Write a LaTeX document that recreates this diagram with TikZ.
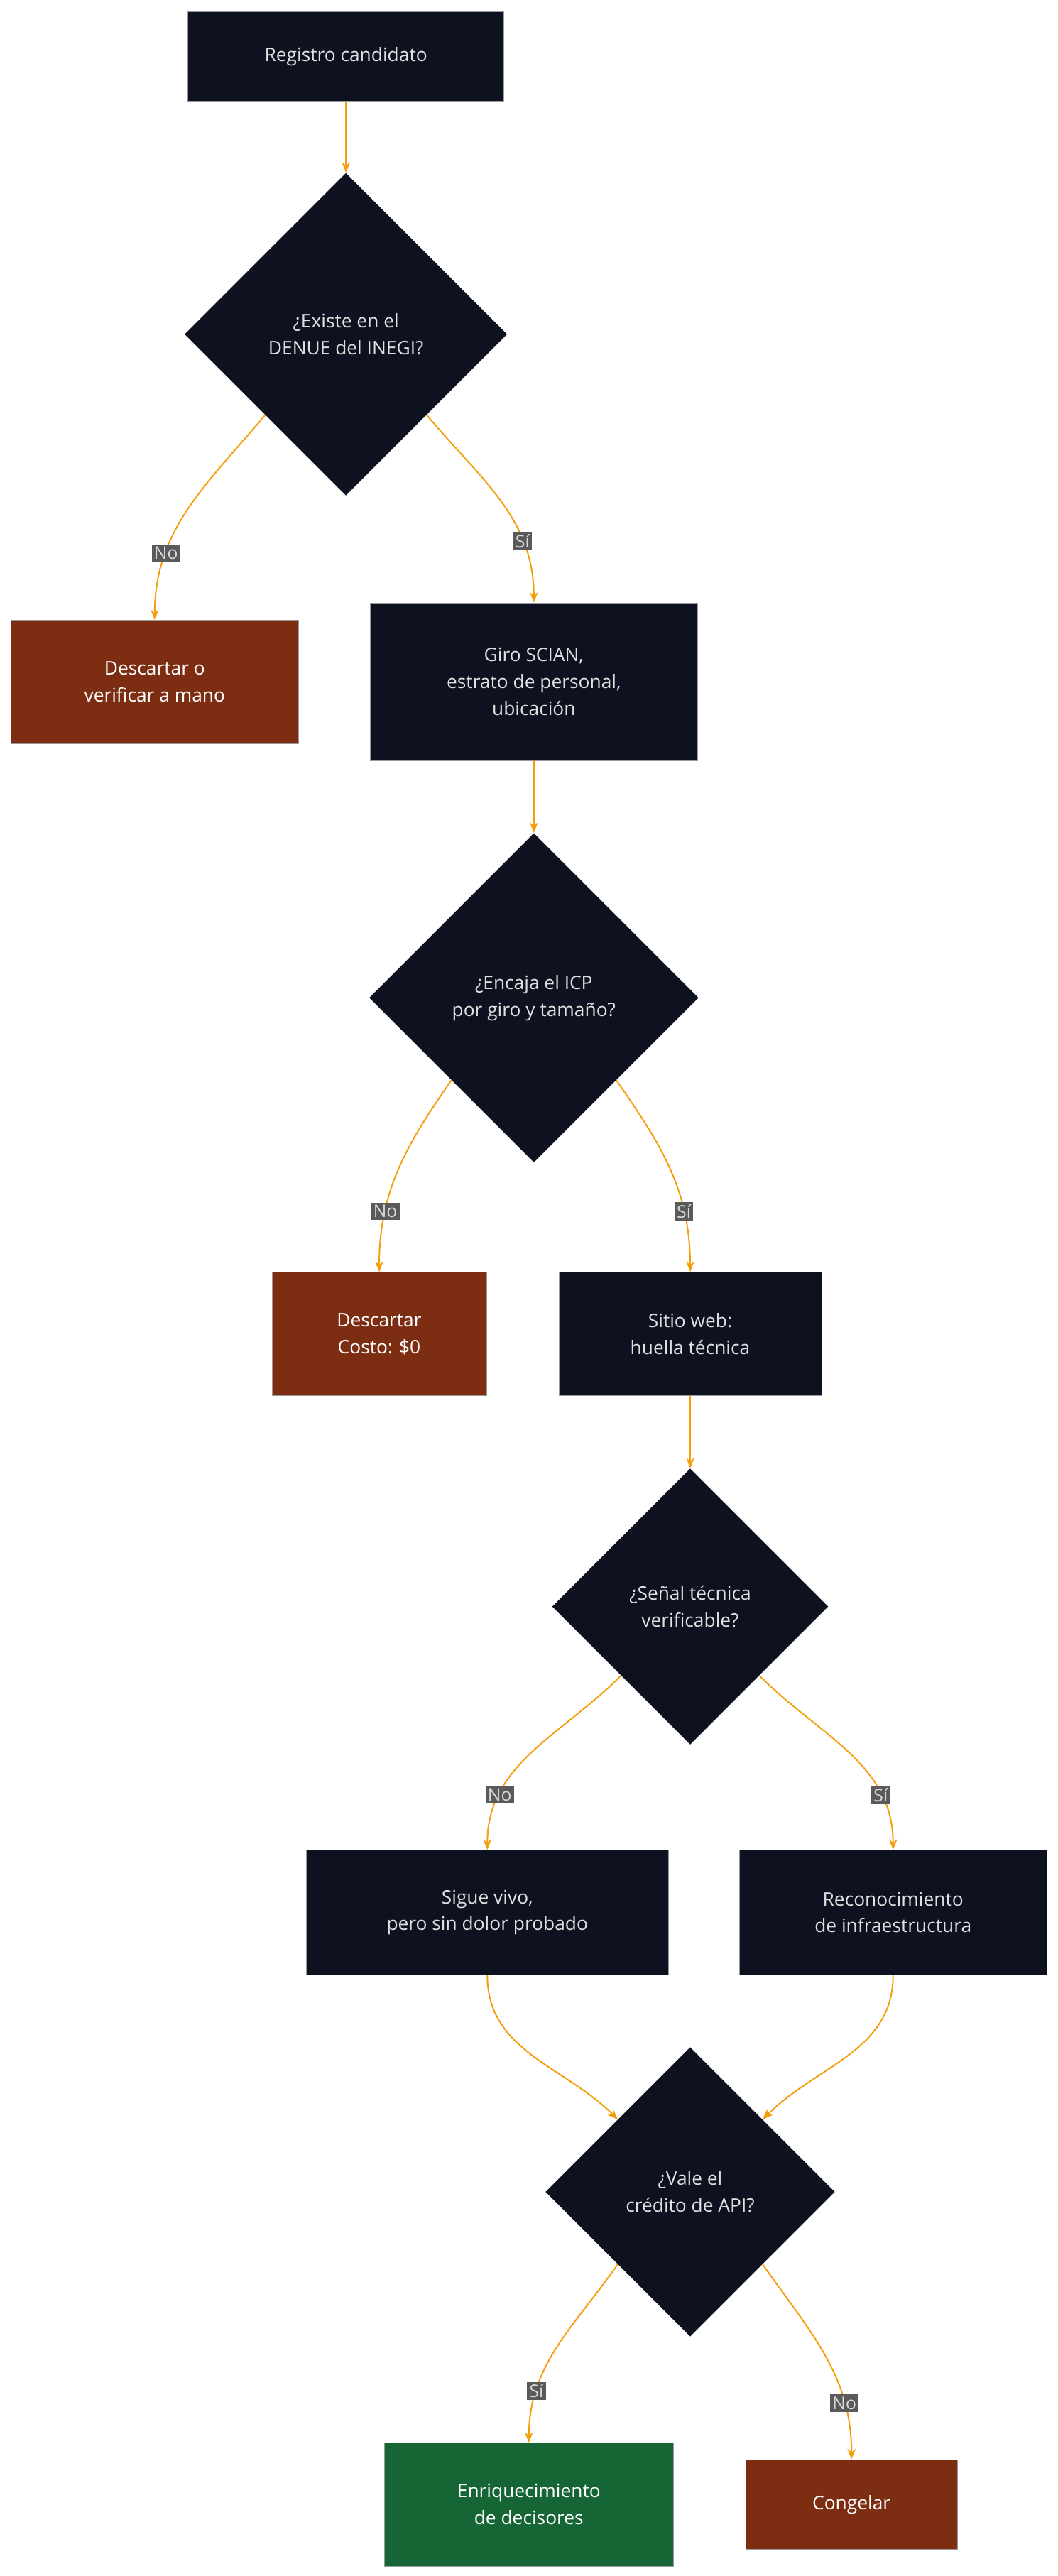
\documentclass[tikz,border=0pt]{standalone}
\usepackage{fontspec}
\setmainfont{Open Sans}
\usetikzlibrary{shapes.geometric,arrows.meta}
\definecolor{nodedark}{HTML}{0E1220}
\definecolor{edgeorange}{HTML}{F59E0B}
\definecolor{discardbrown}{HTML}{7C2D12}
\definecolor{keepgreen}{HTML}{166534}
\definecolor{labelgray}{HTML}{5A5A5A}
\begin{document}
\begin{tikzpicture}
        [x=0.05cm,y=-0.05cm,
        every node/.style={font=\fontsize{16}{23}\selectfont, text=white!88!black, align=center},
        box/.style={rectangle, draw=white!60!black, line width=0.5pt, fill=nodedark, inner sep=0pt},
        decision/.style={diamond, fill=nodedark, inner sep=0pt, aspect=1, minimum size=#1},
        drop/.style={box, fill=discardbrown, text=white},
        link/.style={draw=edgeorange, line width=1.2pt, -{Stealth[length=9pt,width=7pt]}},
        tag/.style={fill=labelgray, inner sep=2pt, text=white!85!black, font=\fontsize{15}{18}\selectfont}]
        \useasboundingbox (0,0) rectangle (636,1549);
        \node[box, minimum width=9.5cm, minimum height=2.7cm] (reg) at (208,34) {Registro candidato};
        \node[decision=9.7cm] (dnue) at (208,201) {¿Existe en el\\DENUE del INEGI?};
        \node[drop, minimum width=8.65cm, minimum height=3.7cm] (manual) at (93,410) {Descartar o\\verificar a mano};
        \node[box, minimum width=9.85cm, minimum height=4.75cm] (giro) at (321,410) {Giro SCIAN,\\estrato de personal,\\ubicación};
        \node[decision=9.9cm] (icp) at (321,600) {¿Encaja el ICP\\por giro y tamaño?};
        \node[drop, minimum width=6.45cm, minimum height=3.7cm] (costo) at (228,802) {Descartar\\Costo: \$0};
        \node[box, minimum width=7.9cm, minimum height=3.7cm] (web) at (415,802) {Sitio web:\\huella técnica};
        \node[decision=8.3cm] (senal) at (415,966) {¿Señal técnica\\verificable?};
        \node[box, minimum width=10.9cm, minimum height=3.75cm] (vivo) at (293,1150) {Sigue vivo,\\pero sin dolor probado};
        \node[box, minimum width=9.25cm, minimum height=3.75cm] (infra) at (537,1150) {Reconocimiento\\de infraestructura};
        \node[decision=8.7cm] (api) at (415,1318) {¿Vale el\\crédito de API?};
        \node[box, fill=keepgreen, text=white, minimum width=8.7cm, minimum height=3.7cm] (enriq) at (318,1506) {Enriquecimiento\\de decisores};
        \node[drop, minimum width=6.35cm, minimum height=2.7cm] (cong) at (512,1506) {Congelar};
        % connectors
        \draw[link] (reg) -- (dnue);
        \draw[link] (dnue.south west) to[out=-130,in=90] node[tag, pos=0.72] {No} (manual.north);
        \draw[link] (dnue.south east) to[out=-50,in=90] node[tag, pos=0.72] {Sí} (giro.north);
        \draw[link] (giro) -- (icp);
        \draw[link] (icp.south west) to[out=-125,in=90] node[tag, pos=0.72] {No} (costo.north);
        \draw[link] (icp.south east) to[out=-55,in=90] node[tag, pos=0.72] {Sí} (web.north);
        \draw[link] (web) -- (senal);
        \draw[link] (senal.south west) to[out=-135,in=90] node[tag, pos=0.75] {No} (vivo.north);
        \draw[link] (senal.south east) to[out=-45,in=90] node[tag, pos=0.75] {Sí} (infra.north);
        \draw[link] (vivo.south) to[out=-90,in=135] (api.north west);
        \draw[link] (infra.south) to[out=-90,in=45] (api.north east);
        \draw[link] (api.south west) to[out=-125,in=90] node[tag, pos=0.75] {Sí} (enriq.north);
        \draw[link] (api.south east) to[out=-55,in=90] node[tag, pos=0.75] {No} (cong.north);
\end{tikzpicture}
\end{document}
